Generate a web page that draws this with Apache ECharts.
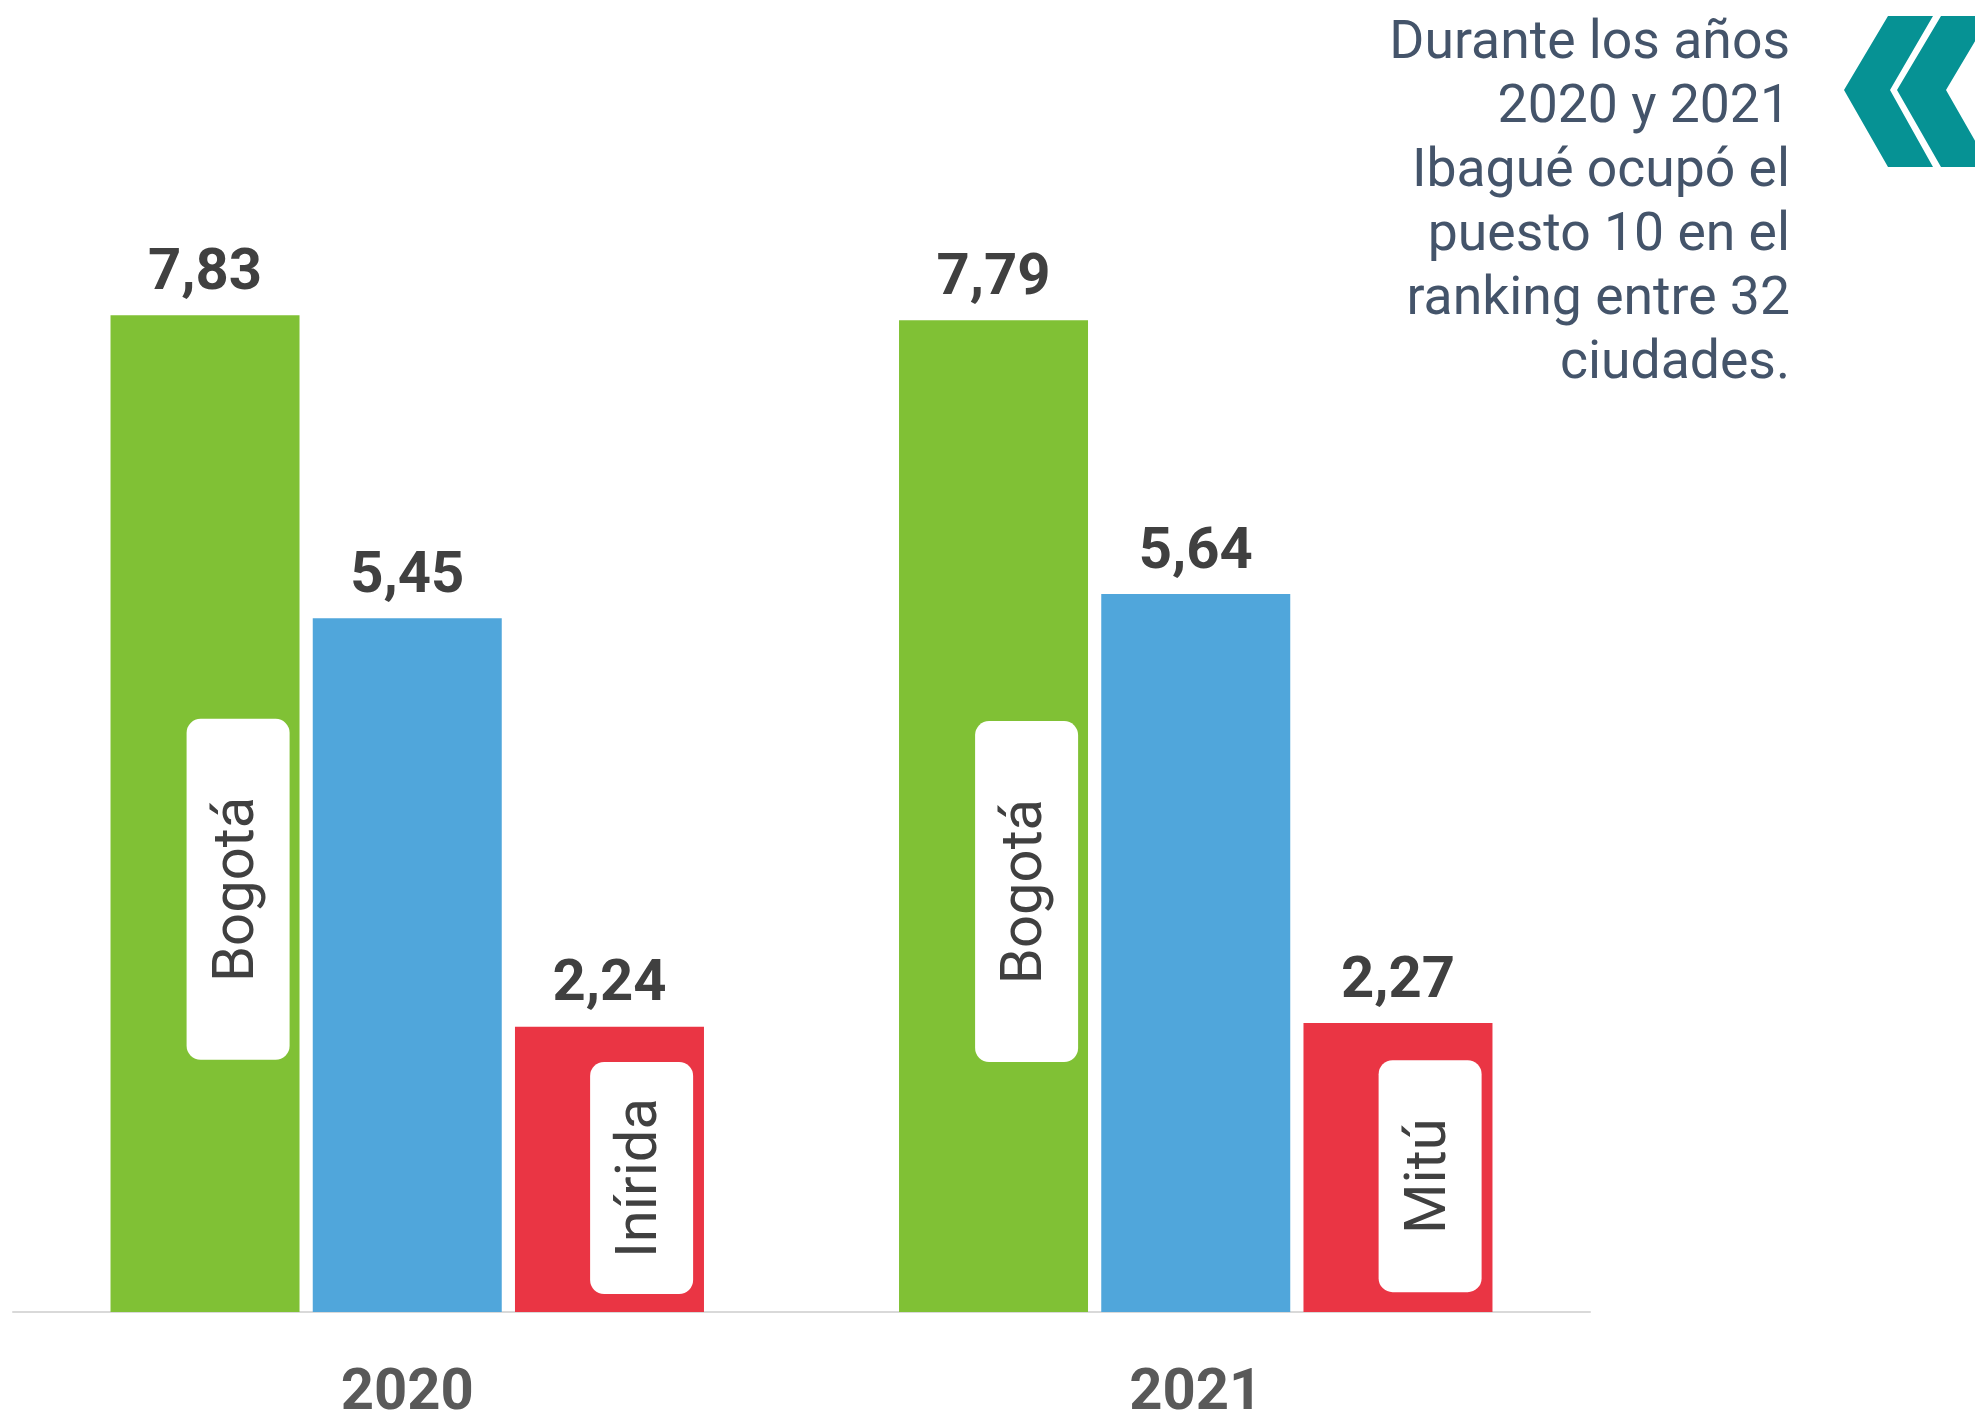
<!DOCTYPE html>
<html>
<head>
<meta charset="utf-8">
<script src="https://cdn.jsdelivr.net/npm/echarts@6/dist/echarts.min.js"></script>
<style>
  html, body { margin: 0; padding: 0; background: #fff; }
  #chart { width: 1975px; height: 1418px; }
</style>
</head>
<body>
<div id="chart"></div>
<script>
// datos
const years = ['2020', '2021']
const maxValues = [7.83, 7.79]
const ibagueValues = [5.45, 5.64]
const minValues = [2.24, 2.27]
const maxCities = ['Bogotá', 'Bogotá']
const minCities = ['Inírida', 'Mitú']
const note = 'Durante los años\n2020 y 2021\nIbagué ocupó el\npuesto 10 en el\nranking entre 32\nciudades.'

const GREEN = '#80C135'
const BLUE = '#50A6DB'
const RED = '#EA3544'
const TEAL = '#069294'

const fmt = (v) => v.toFixed(2).replace('.', ',')

const valueLabel = {
  show: true,
  position: 'top',
  distance: 12,
  fontFamily: 'Roboto',
  fontWeight: 'bold',
  fontSize: 58,
  color: '#404040',
  formatter: (p) => fmt(p.value),
}

function cityItems(values, cities, boxLen, pos) {
  return values.map((v, i) => ({
    value: v,
    label: {
      show: true,
      position: pos,
      rotate: 90,
      align: 'center',
      verticalAlign: 'middle',
      formatter: '{c|' + cities[i] + '}',
      rich: {
        c: {
          width: boxLen,
          height: 103,
          lineHeight: 103,
          align: 'center',
          verticalAlign: 'middle',
          backgroundColor: '#fff',
          borderRadius: 14,
          fontFamily: 'Roboto',
          fontSize: 58,
          color: '#404040',
        },
      },
    },
  }))
}

const overlay = {
  type: 'bar',
  xAxisIndex: 1,
  barWidth: 189,
  barGap: '7%',
  silent: true,
  itemStyle: { color: 'rgba(0,0,0,0)' },
}

const chart = echarts.init(document.getElementById('chart'))
chart.setOption({
  animation: false,
  grid: { left: 13, right: 385, top: 39, bottom: 106, outerBoundsMode: 'none', containLabel: false },
  xAxis: [
    {
      type: 'category',
      data: years,
      axisLine: { lineStyle: { color: '#D9D9D9', width: 2 } },
      axisTick: { show: false },
      axisLabel: {
        margin: 53,
        fontFamily: 'Roboto',
        fontWeight: 'bold',
        fontSize: 58,
        color: '#595959',
      },
    },
    { type: 'category', data: years, show: false },
  ],
  yAxis: { type: 'value', min: 0, max: 10, show: false, splitLine: { show: false } },
  series: [
    { name: 'Máximo', type: 'bar', data: maxValues, barWidth: 189, barGap: '7%', itemStyle: { color: GREEN }, label: valueLabel },
    { name: 'Ibagué', type: 'bar', data: ibagueValues, barWidth: 189, barGap: '7%', itemStyle: { color: BLUE }, label: valueLabel },
    { name: 'Mínimo', type: 'bar', data: minValues, barWidth: 189, barGap: '7%', itemStyle: { color: RED }, label: valueLabel },
    { ...overlay, data: cityItems(maxValues, maxCities, 341, ['67.5%', '57.6%']) },
    { ...overlay, data: ibagueValues },
    { ...overlay, data: cityItems(minValues, minCities, 232, ['67%', '53%']) },
  ],
  graphic: [
    {
      type: 'text',
      right: 185,
      top: 13,
      style: {
        text: note,
        fill: '#44546A',
        font: '53.5px Roboto',
        lineHeight: 64,
        textAlign: 'right',
      },
    },
    {
      type: 'polygon',
      shape: { points: [[1888, 16], [1933, 16], [1890, 90], [1933, 167], [1888, 167], [1844, 90]] },
      style: { fill: TEAL },
    },
    {
      type: 'polygon',
      shape: { points: [[1941, 16], [1990, 16], [1946, 90], [1990, 167], [1941, 167], [1897, 90]] },
      style: { fill: TEAL },
    },
  ],
})
</script>
</body>
</html>
